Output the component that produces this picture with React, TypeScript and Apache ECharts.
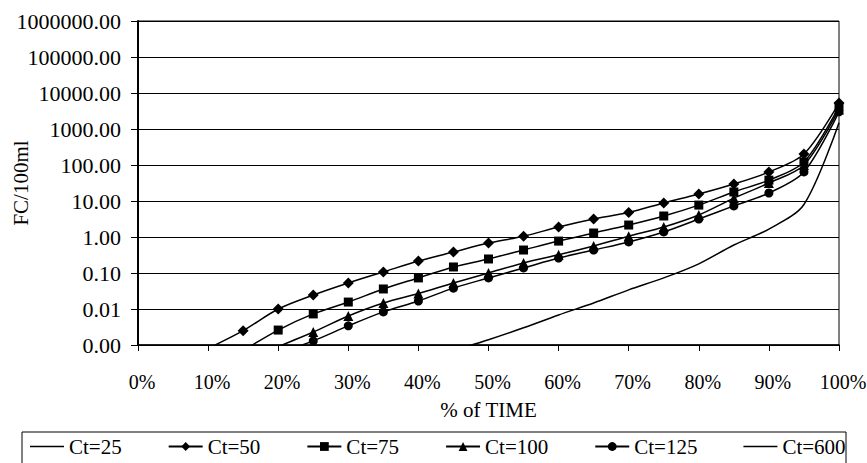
import React, { useEffect, useRef } from "react";
import * as echarts from "echarts";

const percents = [10, 15, 20, 25, 30, 35, 40, 45, 50, 55, 60, 65, 70, 75, 80, 85, 90, 95, 100];
const xTicks = [0, 10, 20, 30, 40, 50, 60, 70, 80, 90, 100];
const ct25: (number | null)[] = [null, null, null, null, null, null, null, null, null, null, null, null, null, null, null, null, null, null, null];
const ct50: (number | null)[] = [0.0008, 0.0025, 0.01, 0.0245, 0.053, 0.107, 0.215, 0.383, 0.68, 1.05, 1.9, 3.16, 4.8, 8.8, 15.6, 29.6, 64, 202, 5250];
const ct75: (number | null)[] = [null, 0.0007, 0.0026, 0.0073, 0.0156, 0.036, 0.073, 0.147, 0.245, 0.435, 0.77, 1.29, 2.15, 3.83, 7.7, 17.8, 38, 121, 4200];
const ct100: (number | null)[] = [null, null, 0.0009, 0.0023, 0.0064, 0.0147, 0.027, 0.053, 0.1, 0.19, 0.32, 0.56, 1.05, 1.9, 4.1, 12, 31.6, 100, 3500];
const ct125: (number | null)[] = [null, null, 0.00058, 0.0013, 0.0034, 0.0083, 0.0167, 0.038, 0.073, 0.138, 0.26, 0.435, 0.73, 1.38, 3.16, 7.3, 16.7, 64, 3000];
const ct600: (number | null)[] = [null, null, null, null, null, null, null, 0.0007, 0.0014, 0.003, 0.0068, 0.0147, 0.034, 0.073, 0.18, 0.6, 1.66, 8, 1500];

const seriesNames = ["Ct=25", "Ct=50", "Ct=75", "Ct=100", "Ct=125", "Ct=600"];
const seriesValues = [ct25, ct50, ct75, ct100, ct125, ct600];
const seriesSymbols = ["none", "diamond", "rect", "triangle", "circle", "none"];
const symbolSizes = [0, 11, 9, 10, 9, 0];

const FONT = "'Liberation Serif', 'Times New Roman', serif";
const LINE_ICON = "path://M0,0 L0.01,0 Z M0,4.7 L34,4.7 L34,6.3 L0,6.3 Z M34,11 L33.99,11 Z";

export default function App() {
  const ref = useRef<HTMLDivElement>(null);
  useEffect(() => {
    if (!ref.current) return;
    const chart = echarts.init(ref.current, undefined, { renderer: "svg" });
    const series = seriesNames.map((name, si) => ({
      name,
      type: "line",
      smooth: 0.3,
      symbol: seriesSymbols[si],
      showSymbol: seriesSymbols[si] !== "none",
      symbolSize: symbolSizes[si],
      clip: true,
      lineStyle: { color: "#000", width: 1.5 },
      itemStyle: { color: "#000" },
      data: percents
        .map((p, i) => [p, seriesValues[si][i]])
        .filter((d) => d[1] !== null),
      z: 3 + si,
    }));
    chart.setOption({
      animation: false,
      backgroundColor: "#fff",
      textStyle: { fontFamily: FONT, color: "#000" },
      grid: {
        left: 138,
        right: 28,
        top: 21,
        bottom: 118,
        show: true,
        borderColor: "#000",
        borderWidth: 1,
        containLabel: false,
        outerBoundsMode: "none",
      },
      xAxis: {
        type: "value",
        min: 0,
        max: 100,
        interval: 10,
        name: "% of TIME",
        nameLocation: "middle",
        nameGap: 54,
        nameMoveOverlap: false,
        nameTextStyle: { fontFamily: FONT, fontSize: 21, color: "#000" },
        axisLine: { show: true, lineStyle: { color: "#000", width: 1.5 } },
        axisTick: { show: true, length: 6, lineStyle: { color: "#000" } },
        splitLine: { show: false },
        axisLabel: {
          margin: 27,
          fontFamily: FONT,
          fontSize: 20,
          color: "#000",
          padding: [0, 0, 0, 8],
          hideOverlap: false,
          formatter: (v: number) => (xTicks.includes(v) ? `${v}%` : ""),
        },
      },
      yAxis: {
        type: "log",
        logBase: 10,
        min: 0.001,
        max: 1000000,
        splitNumber: 9,
        axisLine: { show: true, lineStyle: { color: "#000", width: 2 } },
        axisTick: { show: true, length: 7, lineStyle: { color: "#000" } },
        minorTick: { show: false },
        splitLine: { show: true, lineStyle: { color: "#000", width: 1 } },
        axisLabel: {
          margin: 17,
          fontFamily: FONT,
          fontSize: 22,
          color: "#000",
          formatter: (v: number) => v.toFixed(2),
        },
      },
      legend: {
        data: seriesNames.map((n, i) =>
          seriesSymbols[i] === "none" ? { name: n, icon: LINE_ICON } : { name: n }
        ),
        top: 436,
        left: 30,
        itemWidth: 34,
        itemHeight: 11,
        itemGap: 46,
        textStyle: { fontFamily: FONT, fontSize: 21, color: "#000" },
        padding: 0,
      },
      graphic: [
        {
          type: "rect",
          shape: { x: 22, y: 432, width: 824, height: 40 },
          style: { fill: "none", stroke: "#000", lineWidth: 1 },
          z: -1,
        },
        {
          type: "text",
          x: 21,
          y: 183,
          rotation: Math.PI / 2,
          style: {
            text: "FC/100ml",
            fontFamily: FONT,
            fontSize: 21,
            fill: "#000",
            align: "center",
            verticalAlign: "middle",
          },
        },
      ],
      series,
    });
    return () => chart.dispose();
  }, []);
  return (
    <div
      ref={ref}
      style={{ position: "absolute", left: 0, top: 0, width: 867, height: 463 }}
    />
  );
}
